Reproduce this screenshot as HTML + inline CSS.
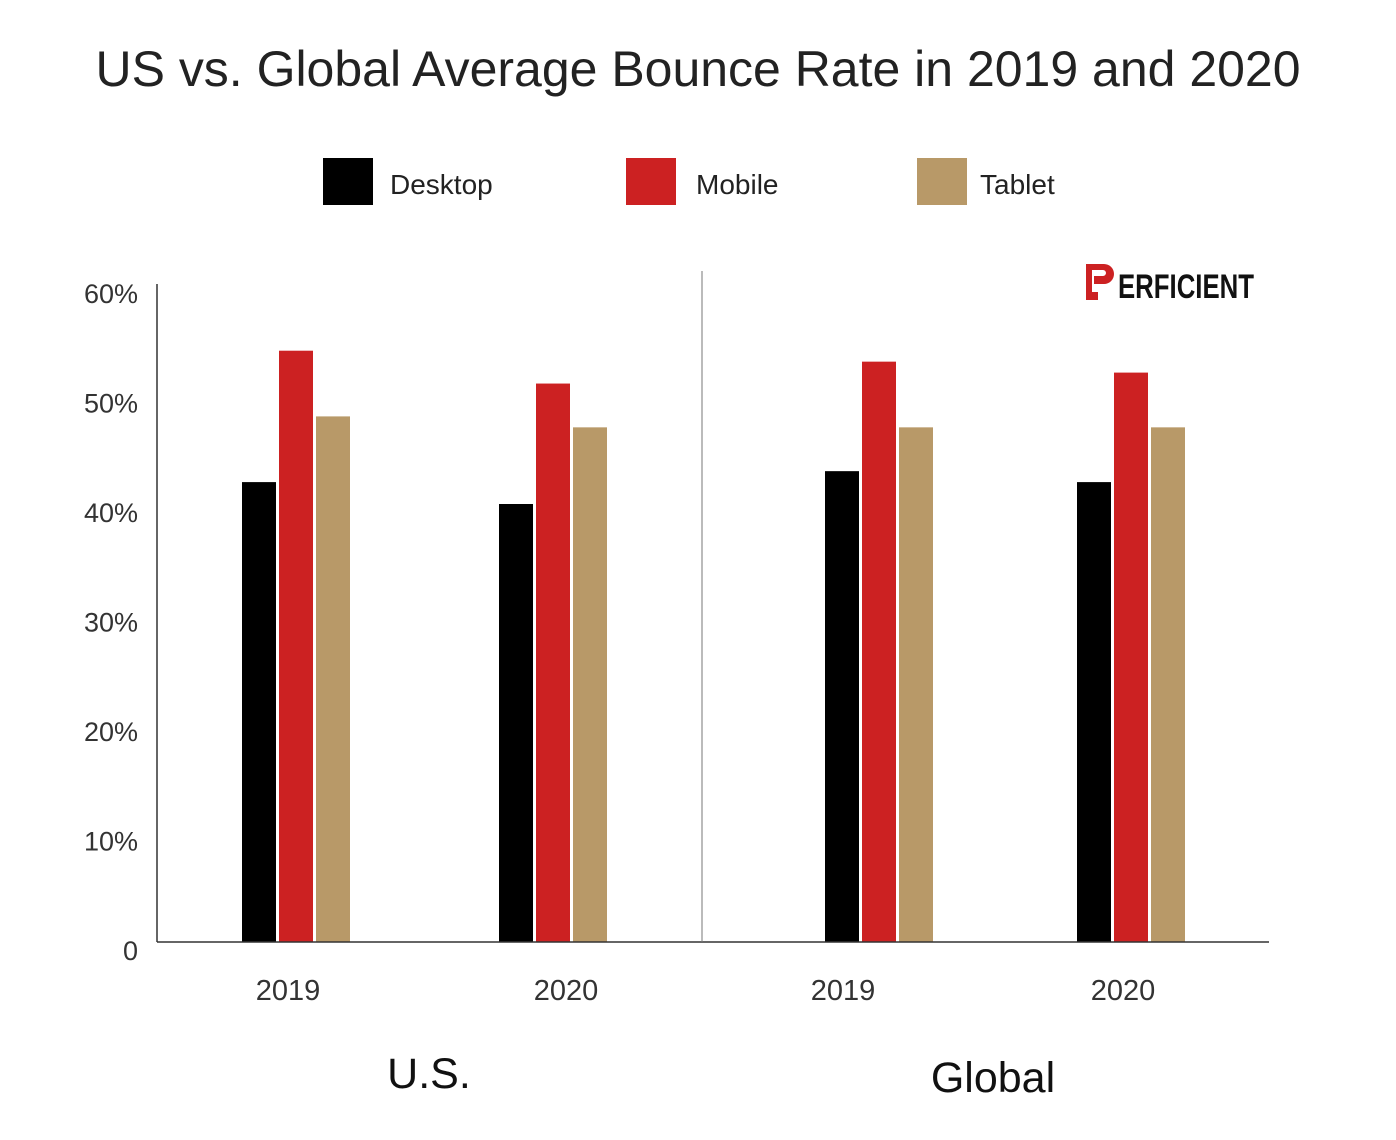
<!DOCTYPE html>
<html><head><meta charset="utf-8"><style>
body{margin:0;background:#fff;}
svg{display:block;font-family:"Liberation Sans",sans-serif;}
</style></head><body>
<svg id="chart" width="1396" height="1140" viewBox="0 0 1396 1140">
<text x="698" y="86" text-anchor="middle" font-size="50" fill="#222" textLength="1205" lengthAdjust="spacingAndGlyphs">US vs. Global Average Bounce Rate in 2019 and 2020</text>
<g>
<g><rect x="323" y="158" width="50" height="47" fill="#000"/><text x="390" y="194" font-size="28" fill="#222">Desktop</text></g>
<g><rect x="626" y="158" width="50" height="47" fill="#cc2122"/><text x="696" y="194" font-size="28" fill="#222">Mobile</text></g>
<g><rect x="917" y="158" width="50" height="47" fill="#b89968"/><text x="980" y="194" font-size="28" fill="#222">Tablet</text></g>
</g>
<g>
<path d="M1086 264 h18 a10 10 0 0 1 0 20 h-10 v-8 h9 a3 3 0 0 0 0 -6 h-11 v28 h-6 z" fill="#cc2122"/>
<path d="M1090 292 h8 v8 h-12 v-4 h4z" fill="#cc2122"/>
<text x="1118" y="298" font-size="34" font-weight="bold" fill="#111" textLength="136" lengthAdjust="spacingAndGlyphs">ERFICIENT</text>
</g>
<g id="yaxis"></g>
<g id="bars"></g>
<line x1="157" y1="284" x2="157" y2="942" stroke="#333" stroke-width="1.5"/>
<line x1="157" y1="942" x2="1269" y2="942" stroke="#333" stroke-width="1.5"/>
<line x1="702" y1="271" x2="702" y2="942" stroke="#777" stroke-width="1"/>
<g id="xlabels"></g>
<text x="429" y="1088" text-anchor="middle" font-size="43" fill="#111">U.S.</text>
<text x="993" y="1092" text-anchor="middle" font-size="43" fill="#111">Global</text>
</svg>
<script>
const categories = ["2019","2020","2019","2020"];
const desktop = [42,40,43,42];
const mobile = [54,51,53,52];
const tablet = [48,47,47,47];
const yTicks = [0,10,20,30,40,50,60];
const yTickLabels = ["0","10%","20%","30%","40%","50%","60%"];
const NS="http://www.w3.org/2000/svg";
const y0=942, pxPer=10.95;
const yScale=v=>y0-v*pxPer;
const groupCenters=[296,553,879,1131];
const labelX=[288,566,843,1123];
const colors=["#000","#cc2122","#b89968"];
const series=[desktop,mobile,tablet];
const names=["desktop","mobile","tablet"];
const yaxis=document.getElementById('yaxis');
yTicks.forEach((t,i)=>{
  const tx=document.createElementNS(NS,'text');
  tx.setAttribute('x',138);tx.setAttribute('y',yScale(t)+18);
  tx.setAttribute('text-anchor','end');tx.setAttribute('font-size','27');tx.setAttribute('fill','#333');
  tx.textContent=yTickLabels[i];
  
  
  yaxis.appendChild(tx);
});
const bars=document.getElementById('bars');
categories.forEach((c,gi)=>{
  series.forEach((s,si)=>{
    const r=document.createElementNS(NS,'rect');
    const x=groupCenters[gi]-54+si*37;
    r.setAttribute('x',x);r.setAttribute('width',34);
    r.setAttribute('y',yScale(s[gi]));r.setAttribute('height',y0-yScale(s[gi]));
    r.setAttribute('fill',colors[si]);
    
    
    bars.appendChild(r);
  });
  const tx=document.createElementNS(NS,'text');
  tx.setAttribute('x',labelX[gi]);tx.setAttribute('y',1000);
  tx.setAttribute('text-anchor','middle');tx.setAttribute('font-size','29');tx.setAttribute('fill','#333');
  tx.textContent=c;
  
  
  document.getElementById('xlabels').appendChild(tx);
});
</script>
</body></html>
